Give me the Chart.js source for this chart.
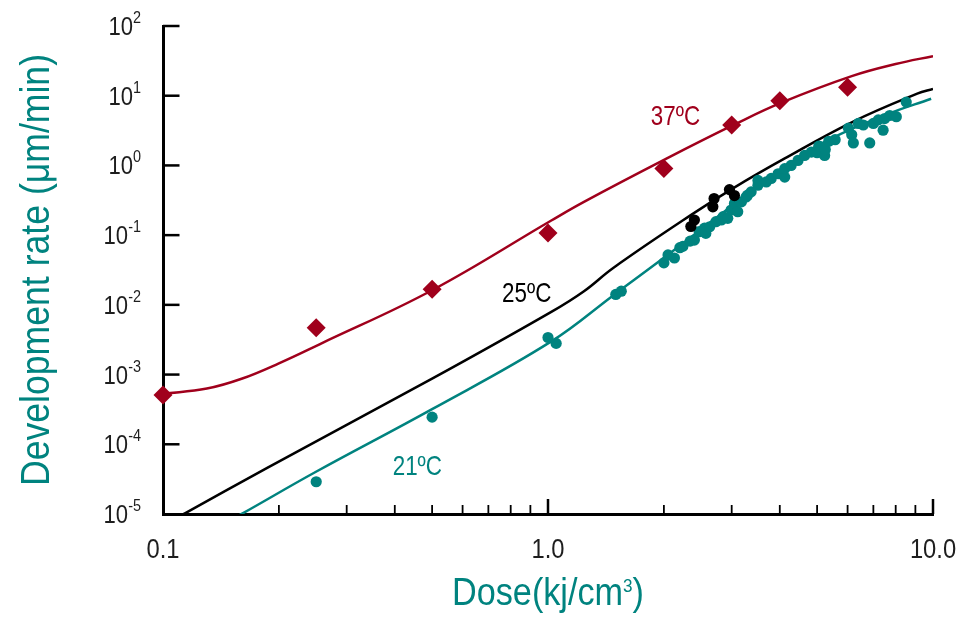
<!DOCTYPE html>
<html>
<head>
<meta charset="utf-8">
<title>Development rate vs dose</title>
<script src="https://cdn.jsdelivr.net/npm/chart.js@4.4.0/dist/chart.umd.min.js"></script>
<style>
  html, body { margin: 0; padding: 0; background: #fff; }
  #wrap { width: 960px; height: 621px; position: relative; }
</style>
</head>
<body>
<div id="wrap"><canvas id="rateChart"></canvas></div>
<script>
// Axis ticks
const xLabelValues = [0.1, 1, 10];
const xTickLabels = ['0.1', '1.0', '10.0'];
const xMinorTicks = [0.2, 0.3, 0.4, 0.5, 0.6, 0.7, 0.8, 0.9, 2, 3, 4, 5, 6, 7, 8, 9];
const yExponents = [-5, -4, -3, -2, -1, 0, 1, 2];

// 37ºC measured (diamonds)
const dose37 = [0.1, 0.25, 0.5, 1.0, 2.0, 3.0, 4.0, 6.0];
const rate37 = [5.1e-4, 4.7e-3, 0.0167, 0.107, 0.9, 3.8, 8.5, 13.2];

// 25ºC measured (black dots)
const dose25 = [2.35, 2.4, 2.68, 2.7, 2.96, 3.05];
const rate25 = [0.133, 0.165, 0.255, 0.335, 0.45, 0.37];

// 21ºC measured (teal dots)
const dose21 = [0.25, 0.5, 1.0, 1.05, 1.5, 1.55,
  2.0, 2.05, 2.13, 2.2, 2.24, 2.34, 2.4, 2.47, 2.55, 2.57, 2.63, 2.73, 2.82, 2.85, 2.93, 2.99,
  3.05, 3.11, 3.18, 3.27, 3.3, 3.37, 3.51, 3.51, 3.69, 3.8, 3.96, 4.12, 4.12, 4.28, 4.46, 4.64,
  4.83, 5.0, 5.05, 5.12, 5.23, 5.25, 5.36, 5.57, 6.03, 6.15, 6.21, 6.4, 6.59, 6.85, 7.0, 7.21,
  7.42, 7.49, 7.72, 8.03, 8.52];
const rate21 = [2.9e-5, 2.45e-4, 3.4e-3, 2.8e-3, 0.0141, 0.0157,
  0.040, 0.052, 0.047, 0.066, 0.069, 0.082, 0.085, 0.112, 0.126, 0.106, 0.132, 0.156, 0.165, 0.184, 0.174, 0.229,
  0.285, 0.217, 0.30, 0.353, 0.374, 0.418, 0.52, 0.61, 0.58, 0.65, 0.76, 0.68, 0.90, 1.0, 1.18, 1.39,
  1.55, 1.52, 1.89, 1.85, 1.39, 1.69, 2.22, 2.34, 3.42, 2.75, 2.1, 4.0, 3.8, 2.1, 4.0, 4.5,
  3.2, 4.7, 5.2, 5.0, 8.1];

// Fitted curves
const fitDose37 = [0.1, 0.13, 0.16, 0.2, 0.255, 0.5, 1.02, 1.24, 2.03, 3.06, 4.04, 6.15, 8.0, 10];
const fitRate37 = [5.3e-4, 6.3e-4, 8.7e-4, 1.45e-3, 2.72e-3, 0.0162, 0.162, 0.30, 1.25, 3.9, 7.96, 19.1, 28.5, 37];

const fitDose25 = [0.1, 0.114, 0.186, 0.5, 1.02, 1.24, 1.48, 2.36, 3.06, 4.11, 6.15, 9.1, 10];
const fitRate25 = [6.9e-6, 1.02e-5, 4.56e-5, 8.73e-4, 7.93e-3, 0.0157, 0.0341, 0.197, 0.489, 1.25, 4.16, 10.7, 12.5];

const fitDose21 = [0.15, 0.161, 0.249, 0.5, 1.02, 1.48, 2.0, 3.36, 5.02, 7.48, 9.89];
const fitRate21 = [8.3e-6, 1.02e-5, 4.0e-5, 3.19e-4, 2.99e-3, 0.01377, 0.0472, 0.415, 1.91, 5.22, 9.06];

// Curve labels, anchored in data units (left / baseline)
const curveLabels = ['37ºC', '25ºC', '21ºC'];
const labelDose = [1.85, 0.76, 0.395];
const labelRate = [3.78, 0.011, 3.63e-5];

const RED = '#a0001c';
const TEAL = '#00837f';
const BLACK = '#000000';
const TEXT = '#1e1e1e';
const FONT = '"Liberation Sans", Arial, sans-serif';
const labelColors = [RED, BLACK, TEAL];

function pairs(xs, ys) {
    return xs.map((x, i) => ({x: x, y: ys[i]}));
}

// Text helper: horizontally condensed like the original figure
function drawText(ctx, str, x, y, size, color, align, sx) {
    ctx.save();
    ctx.font = size + 'px ' + FONT;
    ctx.fillStyle = color;
    ctx.textAlign = align;
    ctx.textBaseline = 'alphabetic';
    ctx.translate(x, y);
    ctx.scale(sx, 1);
    ctx.fillText(str, 0, 0);
    ctx.restore();
}

function textWidth(ctx, str, size, sx) {
    ctx.save();
    ctx.font = size + 'px ' + FONT;
    const w = ctx.measureText(str).width * sx;
    ctx.restore();
    return w;
}

function tick(ctx, x1, y1, x2, y2, w) {
    ctx.beginPath();
    ctx.lineWidth = w;
    ctx.moveTo(x1, y1);
    ctx.lineTo(x2, y2);
    ctx.stroke();
}

const decorPlugin = {
    id: 'decor',
    afterDraw(chart) {
        const ctx = chart.ctx;
        const xs = chart.scales.x;
        const ys = chart.scales.y;
        const area = chart.chartArea;
        ctx.save();
        ctx.strokeStyle = BLACK;
        ctx.lineCap = 'butt';

        // inward ticks on y axis
        yExponents.forEach(e => {
            const py = ys.getPixelForValue(Math.pow(10, e));
            if (e > -5) tick(ctx, area.left, py, area.left + 16.5, py, 2.5);
        });
        // inward ticks on x axis
        xMinorTicks.forEach(v => {
            const px = xs.getPixelForValue(v);
            tick(ctx, px, area.bottom, px, area.bottom - 9, 1.8);
        });
        [1, 10].forEach(v => {
            const px = xs.getPixelForValue(v);
            tick(ctx, px, area.bottom, px, area.bottom - 15, 2.5);
        });

        // y tick labels 10^n
        const labelRight = area.left - 22;
        yExponents.forEach(e => {
            const py = ys.getPixelForValue(Math.pow(10, e));
            const exp = String(e);
            const ew = textWidth(ctx, exp, 17, 0.85);
            drawText(ctx, '10', labelRight - ew, py + 9, 26, TEXT, 'right', 0.85);
            drawText(ctx, exp, labelRight, py - 3, 17, TEXT, 'right', 0.85);
        });

        // x tick labels
        xLabelValues.forEach((v, i) => {
            const px = xs.getPixelForValue(v);
            drawText(ctx, xTickLabels[i], px, area.bottom + 44, 27, TEXT, 'center', 0.88);
        });

        // x axis title with superscript
        const tSize = 38, tsx = 0.9;
        const partA = 'Dose(kj/cm', partB = '3', partC = ')';
        const wA = textWidth(ctx, partA, tSize, tsx);
        const wB = textWidth(ctx, partB, 19, tsx);
        const wC = textWidth(ctx, partC, tSize, tsx);
        let tx = (area.left + area.right) / 2 - (wA + wB + wC) / 2;
        const tBase = area.bottom + 91;
        drawText(ctx, partA, tx, tBase, tSize, TEAL, 'left', tsx);
        drawText(ctx, partB, tx + wA, tBase - 13, 19, TEAL, 'left', tsx);
        drawText(ctx, partC, tx + wA + wB, tBase, tSize, TEAL, 'left', tsx);

        // y axis title, rotated
        ctx.save();
        ctx.translate(49, (area.top + area.bottom) / 2);
        ctx.rotate(-Math.PI / 2);
        drawText(ctx, 'Development rate (μm/min)', 0, 0, 40, TEAL, 'center', 0.89);
        ctx.restore();

        // curve labels
        curveLabels.forEach((s, i) => {
            const px = xs.getPixelForValue(labelDose[i]);
            const py = ys.getPixelForValue(labelRate[i]);
            drawText(ctx, s, px, py, 28, labelColors[i], 'left', 0.8);
        });
        ctx.restore();
    }
};

const lineStyle = {
    showLine: true,
    pointRadius: 0,
    borderWidth: 2.5,
    fill: false,
    tension: 0.4,
    order: 2
};

new Chart(document.getElementById('rateChart'), {
    type: 'scatter',
    data: {
        datasets: [
            Object.assign({label: '37ºC fit', data: pairs(fitDose37, fitRate37), borderColor: RED}, lineStyle),
            Object.assign({label: '25ºC fit', data: pairs(fitDose25, fitRate25), borderColor: BLACK}, lineStyle),
            Object.assign({label: '21ºC fit', data: pairs(fitDose21, fitRate21), borderColor: TEAL}, lineStyle),
            {
                label: '37ºC',
                data: pairs(dose37, rate37),
                pointStyle: 'rectRot',
                pointRadius: 9.5,
                backgroundColor: RED,
                borderColor: RED,
                borderWidth: 0,
                clip: false,
                order: 0
            },
            {
                label: '25ºC',
                data: pairs(dose25, rate25),
                pointRadius: 5.6,
                backgroundColor: BLACK,
                borderWidth: 0,
                clip: false,
                order: 0
            },
            {
                label: '21ºC',
                data: pairs(dose21, rate21),
                pointRadius: 5.6,
                backgroundColor: TEAL,
                borderWidth: 0,
                clip: false,
                order: 1
            }
        ]
    },
    options: {
        responsive: true,
        maintainAspectRatio: false,
        animation: false,
        layout: { padding: { left: 155, right: 27, top: 26, bottom: 99 } },
        plugins: {
            legend: { display: false },
            tooltip: { enabled: false }
        },
        scales: {
            x: {
                type: 'logarithmic',
                min: 0.1,
                max: 10,
                grid: { display: false },
                ticks: { display: false },
                border: { display: true, color: BLACK, width: 3 }
            },
            y: {
                type: 'logarithmic',
                min: 1e-5,
                max: 100,
                grid: { display: false },
                ticks: { display: false },
                border: { display: true, color: BLACK, width: 3 }
            }
        }
    },
    plugins: [decorPlugin]
});
</script>
</body>
</html>
